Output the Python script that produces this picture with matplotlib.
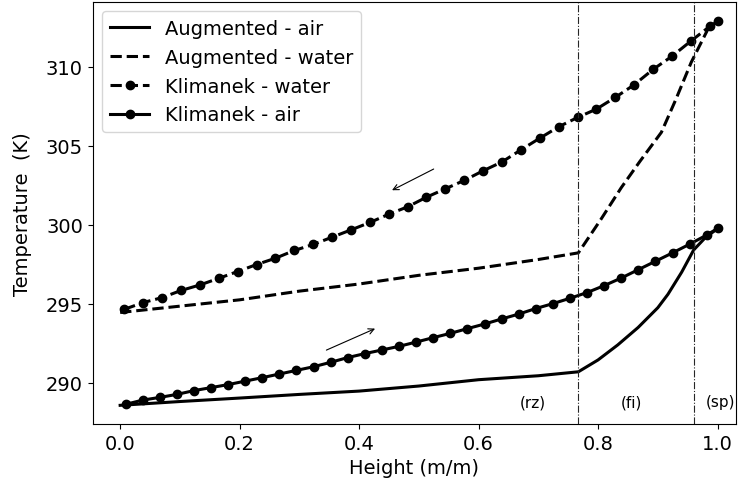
import numpy as np
import matplotlib
matplotlib.use("Agg")
import matplotlib.pyplot as plt

# Augmented model profiles (normalised height vs temperature)
aug_air_h = [0.0, 0.1, 0.2, 0.3, 0.4, 0.5, 0.6, 0.7, 0.767, 0.80, 0.833, 0.867,
             0.90, 0.917, 0.94, 0.96, 0.98, 1.0]
aug_air_T = [288.58, 288.82, 289.04, 289.27, 289.48, 289.80, 290.20, 290.45, 290.70,
             291.45, 292.40, 293.50, 294.75, 295.60, 297.00, 298.40, 299.20, 299.75]

aug_water_h = [0.0, 0.1, 0.2, 0.3, 0.4, 0.5, 0.6, 0.7, 0.767, 0.805, 0.839, 0.87,
               0.906, 0.93, 0.956, 0.984, 1.0]
aug_water_T = [294.45, 294.85, 295.25, 295.80, 296.25, 296.80, 297.25, 297.80, 298.22,
               300.35, 302.35, 304.00, 305.84, 307.90, 310.27, 312.37, 312.90]

# Klimanek reference data
klim_water_h = list(np.linspace(0.007, 0.987, 32)) + [1.0]
klim_water_T = [294.65, 295.08, 295.39, 295.84, 296.19, 296.61, 297.04, 297.48,
                297.88, 298.37, 298.75, 299.21, 299.67, 300.14, 300.66, 301.13,
                301.74, 302.27, 302.80, 303.41, 303.97, 304.73, 305.47, 306.19,
                306.78, 307.31, 308.05, 308.85, 309.82, 310.65, 311.61, 312.54,
                312.90]

klim_air_h = list(np.linspace(0.009, 0.982, 35)) + [1.0]
klim_air_T = [288.64, 288.91, 289.08, 289.27, 289.51, 289.70, 289.89, 290.11,
              290.33, 290.56, 290.79, 291.02, 291.30, 291.60, 291.85, 292.08,
              292.31, 292.58, 292.86, 293.13, 293.43, 293.72, 294.04, 294.35,
              294.70, 295.01, 295.35, 295.71, 296.15, 296.63, 297.16, 297.69,
              298.22, 298.77, 299.35, 299.76]

# Zone boundaries and labels
zone_bounds = [0.767, 0.96]
zone_labels = ["(rz)", "(fi)", "(sp)"]
zone_label_x = [0.69, 0.856, 1.005]
zone_label_T = 288.8

fig = plt.figure(figsize=(7.39, 4.89), dpi=100)
ax = fig.add_axes([0.1254, 0.1309, 0.8706, 0.8636])

ax.plot(aug_air_h, aug_air_T, color="black", lw=2.2, ls="-", label="Augmented - air")
ax.plot(aug_water_h, aug_water_T, color="black", lw=2.2, ls="--", label="Augmented - water")
ax.plot(klim_water_h, klim_water_T, color="black", lw=2.2, ls="--", marker="o",
        markersize=6, label="Klimanek - water")
ax.plot(klim_air_h, klim_air_T, color="black", lw=2.2, ls="-", marker="o",
        markersize=6, label="Klimanek - air")

for xb in zone_bounds:
    ax.axvline(xb, color="0.15", lw=0.8, ls="-.")

for lab, xl in zip(zone_labels, zone_label_x):
    ax.text(xl, zone_label_T, lab, ha="center", va="center", fontsize=11)

# Flow direction arrows
ax.annotate("", xy=(0.451, 302.1), xytext=(0.529, 303.6),
            arrowprops=dict(arrowstyle="->", color="black", lw=0.8))
ax.annotate("", xy=(0.431, 293.5), xytext=(0.341, 292.0),
            arrowprops=dict(arrowstyle="->", color="black", lw=0.8))

ax.set_xlim(-0.046, 1.031)
ax.set_ylim(287.4, 314.1)
ax.set_xticks([0.0, 0.2, 0.4, 0.6, 0.8, 1.0])
ax.set_yticks([290, 295, 300, 305, 310])
ax.tick_params(labelsize=14)
ax.set_xlabel("Height (m/m)", fontsize=14)
ax.set_ylabel("Temperature  (K)", fontsize=14, labelpad=10)

ax.legend(loc="upper left", fontsize=14, borderaxespad=0.5)

fig.savefig("out.png", dpi=100)
